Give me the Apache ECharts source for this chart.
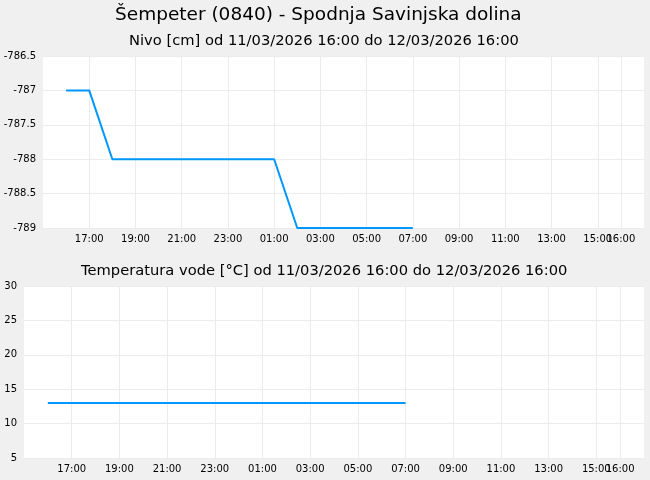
<!DOCTYPE html>
<html>
<head>
<meta charset="utf-8">
<script src="https://cdn.jsdelivr.net/npm/echarts@6/dist/echarts.min.js"></script>
<style>
html,body{margin:0;padding:0;background:#f0f0f0;}
#c{width:650px;height:480px;}
</style>
</head>
<body>
<div id="c"></div>
<script>
const times = [
  '2026-03-11 16:00','2026-03-11 17:00','2026-03-11 18:00','2026-03-11 19:00',
  '2026-03-11 20:00','2026-03-11 21:00','2026-03-11 22:00','2026-03-11 23:00',
  '2026-03-12 00:00','2026-03-12 01:00','2026-03-12 02:00','2026-03-12 03:00',
  '2026-03-12 04:00','2026-03-12 05:00','2026-03-12 06:00','2026-03-12 07:00'
];
const nivo = [-787,-787,-788,-788,-788,-788,-788,-788,-788,-788,-789,-789,-789,-789,-789,-789];
const temperatura = [13,13,13,13,13,13,13,13,13,13,13,13,13,13,13,13];
const xTicks = [
  '2026-03-11 17:00','2026-03-11 19:00','2026-03-11 21:00','2026-03-11 23:00',
  '2026-03-12 01:00','2026-03-12 03:00','2026-03-12 05:00','2026-03-12 07:00',
  '2026-03-12 09:00','2026-03-12 11:00','2026-03-12 13:00','2026-03-12 15:00',
  '2026-03-12 16:00'
];
const xMin = '2026-03-11 15:00';
const xMax = '2026-03-12 17:00';
const mainTitle = 'Šempeter (0840) - Spodnja Savinjska dolina';
const sub1 = 'Nivo [cm] od 11/03/2026 16:00 do 12/03/2026 16:00';
const sub2 = 'Temperatura vode [°C] od 11/03/2026 16:00 do 12/03/2026 16:00';

const toTs = s => echarts.time.parse(s).getTime();
const tickTs = xTicks.map(toTs);
const font = 'DejaVu Sans';
const gridColor = '#ececec';
const blue = '#0096ff';

function xAxis(gi){
  return {
    type:'time', gridIndex:gi, min:toTs(xMin), max:toTs(xMax),
    axisLine:{show:false},
    axisTick:{show:false, customValues:tickTs},
    axisLabel:{customValues:tickTs, formatter:'{HH}:{mm}', fontFamily:font, fontSize:10, color:'#000', margin:6, hideOverlap:false},
    splitLine:{show:true, lineStyle:{color:gridColor, width:1}}
  };
}
function yAxis(gi, min, max, interval){
  return {
    type:'value', gridIndex:gi, min:min, max:max, interval:interval,
    axisLine:{show:false}, axisTick:{show:false},
    axisLabel:{fontFamily:font, fontSize:10, color:'#000', margin:7},
    splitLine:{show:true, lineStyle:{color:gridColor, width:1}}
  };
}

const chart = echarts.init(document.getElementById('c'), null, {renderer:'canvas'});
chart.setOption({
  backgroundColor:'#f0f0f0',
  animation:false,
  title:[
    {text:mainTitle, left:110, top:1, textStyle:{fontFamily:font, fontSize:18.5, fontWeight:'normal', color:'#000'}},
    {text:sub1, left:124, top:29, textStyle:{fontFamily:font, fontSize:14.7, fontWeight:'normal', color:'#000'}},
    {text:sub2, left:76, top:259, textStyle:{fontFamily:font, fontSize:14.7, fontWeight:'normal', color:'#000'}}
  ],
  grid:[
    {left:43, right:6, top:56, height:172, backgroundColor:'#fff', show:true, borderWidth:0},
    {left:24, right:6, top:286, height:172, backgroundColor:'#fff', show:true, borderWidth:0}
  ],
  xAxis:[xAxis(0), xAxis(1)],
  yAxis:[yAxis(0,-789,-786.5,0.5), yAxis(1,5,30,5)],
  series:[
    {type:'line', xAxisIndex:0, yAxisIndex:0, showSymbol:false, data:times.map((t,i)=>[toTs(t), nivo[i]]), lineStyle:{color:blue, width:2}, itemStyle:{color:blue}},
    {type:'line', xAxisIndex:1, yAxisIndex:1, showSymbol:false, data:times.map((t,i)=>[toTs(t), temperatura[i]]), lineStyle:{color:blue, width:2}, itemStyle:{color:blue}}
  ]
});
</script>
</body>
</html>
